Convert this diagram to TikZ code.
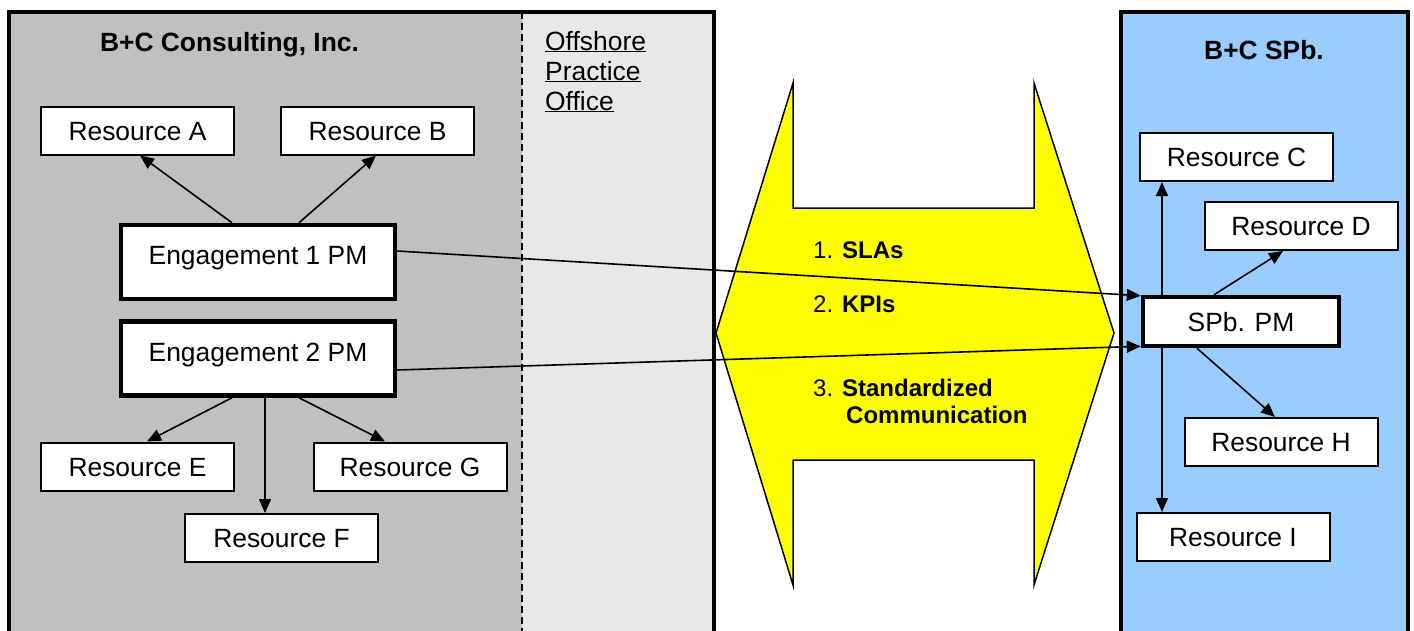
\documentclass[tikz,border=0pt]{standalone}
\usepackage{fontspec}
\setmainfont{Liberation Sans}
\usetikzlibrary{arrows.meta,calc}
\newcommand{\fsmain}{\fontsize{26.4}{30}\selectfont}
\newcommand{\fsy}{\fontsize{24}{27.5}\selectfont}
\definecolor{panelgray}{HTML}{C0C0C0}
\definecolor{panellight}{HTML}{E8E8E8}
\definecolor{panelblue}{HTML}{99CCFF}
\definecolor{bandyellow}{HTML}{FFFF00}
\tikzset{
  res/.style={draw, line width=2pt, fill=white, minimum width=193pt, minimum height=48pt,
    inner sep=0pt, text height=19pt, text depth=0pt, font=\fsmain},
  engbox/.style={draw, line width=4.5pt, fill=white, minimum width=274pt,
    inner sep=0pt, text height=39.5pt, text depth=34.5pt, font=\fsmain},
  pmbox/.style={draw, line width=4.5pt, fill=white, minimum width=196pt, minimum height=49pt,
    inner sep=0pt, text height=19pt, text depth=0pt, font=\fsmain},
  arr/.style={line width=1.6pt, -{Triangle[length=14pt,width=12pt]}},
  panelborder/.style={line width=4pt},
  ytext/.style={font=\fsy, inner sep=0pt, anchor=base west},
  titletext/.style={font=\fsmain\bfseries, inner sep=0pt, anchor=base},
}
\begin{document}
\begin{tikzpicture}[x=1pt,y=-1pt]
\useasboundingbox (0,0) rectangle (1414,630);
\fill[white] (0,0) rectangle (1414,630);
\clip (0,0) rectangle (1414,630);
% left panel
\fill[panelgray] (9,12) rectangle (522,660);
\fill[panellight] (522,12) rectangle (714,660);
\draw[line width=1.5pt, dash pattern=on 7pt off 4pt] (522,12) -- (522,660);
\draw[panelborder] (9,12) rectangle (714,660);
% right panel
\fill[panelblue] (1121,12) rectangle (1408,660);
\draw[panelborder] (1121,12) rectangle (1408,660);
% yellow band
\draw[line width=1.5pt, fill=bandyellow]
  (716,333) -- (793,83) -- (793,208) -- (1034,208) -- (1034,83) -- (1114,333)
  -- (1034,585) -- (1034,460) -- (793,460) -- (793,585) -- cycle;
% titles
\node[titletext] (title1) at (229.5,51.5) {B+C Consulting, Inc.};
\node[titletext] (title2) at (1264,59) {B+C SPb.};
\node[font=\fsmain, inner sep=0pt, anchor=base west, align=left] (offshore) at (545,110)
  {\underline{Offshore}\\\underline{Practice}\\\underline{Office}};
% yellow texts
\node[ytext] (t1) at (813,258.5) {1. \textbf{SLAs}};
\node[ytext] (t2) at (813,312.5) {2. \textbf{KPIs}};
\node[ytext, align=left] (t3) at (813,423.5) {3. \textbf{Standardized}\\\hspace*{33pt}\textbf{Communication}};
% left nodes
\node[res] (resA) at (137.5,130.5) {Resource A};
\node[res] (resB) at (377.5,130.5) {Resource B};
\node[engbox] (eng1) at (258,262) {Engagement 1 PM};
\node[engbox] (eng2) at (258,358.5) {Engagement 2 PM};
\node[res] (resE) at (137.5,466.5) {Resource E};
\node[res] (resG) at (410,466.5) {Resource G};
\node[res] (resF) at (281.5,538) {Resource F};
% right nodes
\node[res] (resC) at (1236.5,157) {Resource C};
\node[res] (resD) at (1301,226) {Resource D};
\node[pmbox] (pm) at (1241,321.5) {SPb. PM};
\node[res] (resH) at (1281,442) {Resource H};
\node[res] (resI) at (1233,537) {Resource I};
% left arrows
\draw[arr] ([xshift=-26pt]eng1.north) -- ([xshift=2.5pt]resA.south);
\draw[arr] ([xshift=41pt]eng1.north) -- ([xshift=-1.5pt]resB.south);
\draw[arr] ([xshift=-26pt]eng2.south) -- ([xshift=9.5pt]resE.north);
\draw[arr] ([xshift=7pt]eng2.south) -- ([xshift=7pt]eng2.south |- resF.north);
\draw[arr] ([xshift=41pt]eng2.south) -- ([xshift=-25pt]resG.north);
% cross arrows
\draw[arr] ([yshift=11pt]eng1.east) -- ([yshift=-1pt]pm.north west);
\draw[arr] ([yshift=-11.5pt]eng2.east) -- ([yshift=2pt]pm.south west);
% right arrows
\draw[arr] ([xshift=-79pt]pm.north) -- ([xshift=-79pt]pm.north |- resC.south);
\draw[arr] ([xshift=-79pt]pm.south) -- ([xshift=-79pt]pm.south |- resI.north);
\draw[arr] ([xshift=-27pt]pm.north) -- ([xshift=-18pt]resD.south);
\draw[arr] ([xshift=-44pt]pm.south) -- ([xshift=-6pt]resH.north);
\end{tikzpicture}
\end{document}
